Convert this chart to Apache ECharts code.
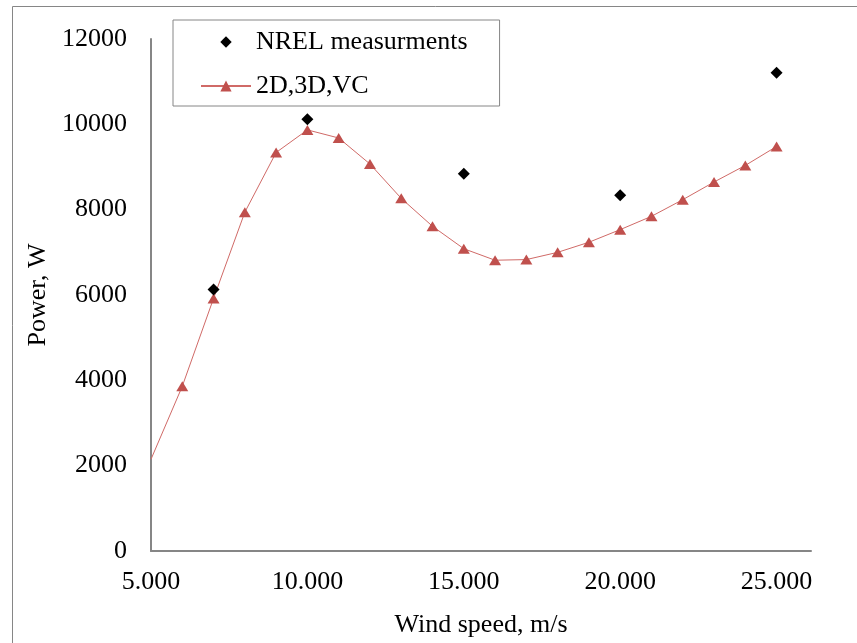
<!DOCTYPE html>
<html>
<head>
<meta charset="utf-8">
<script src="https://cdn.jsdelivr.net/npm/echarts@6/dist/echarts.min.js"></script>
<style>
  html, body { margin: 0; padding: 0; background: #fff; }
  #myChart { width: 857px; height: 643px; }
</style>
</head>
<body>
<div id="myChart"></div>
<script>
var myChart;
var FONT = '"Liberation Serif", "Times New Roman", serif';

// NREL measurements
var nrelSpeed = [7, 10, 15, 20, 25];
var nrelPower = [6130, 10120, 8840, 8340, 11210];

// 2D,3D,VC model
var modelSpeed = [5, 6, 7, 8, 9, 10, 11, 12, 13, 14, 15, 16, 17, 18, 19, 20, 21, 22, 23, 24, 25];
var modelPower = [2150, 3860, 5920, 7940, 9340, 9870, 9680, 9070, 8265, 7610, 7085,
    6815, 6830, 7000, 7236, 7532, 7844, 8234, 8648, 9037, 9481];

var xTicks = [5, 10, 15, 20, 25];

// small diamond inside a 14x14 box so the legend does not stretch it
var LEGEND_DIAMOND = 'path://M0,0 M14,14 M7,1.3 L12.7,7 L7,12.7 L1.3,7 Z';

function makeOption() {
    var modelData = modelSpeed.map(function (s, i) {
        // first point sits on the axis with no marker
        if (i === 0) {
            return { value: [s, modelPower[i]], symbol: 'none' };
        }
        return [s, modelPower[i]];
    });
    var nrelData = nrelSpeed.map(function (s, i) {
        return [s, nrelPower[i]];
    });
    return {
        animation: false,
        backgroundColor: '#fff',
        textStyle: { fontFamily: FONT },
        graphic: [{
            type: 'rect',
            shape: { x: 12.5, y: 6.5, width: 900, height: 700 },
            style: { fill: 'none', stroke: '#868686', lineWidth: 1 },
            silent: true
        }],
        legend: {
            orient: 'vertical',
            left: 173,
            top: 20,
            padding: [7, 32, 5, 27],
            itemGap: 14,
            itemWidth: 50,
            itemHeight: 14,
            borderColor: '#868686',
            borderWidth: 1,
            textStyle: { fontFamily: FONT, fontSize: 26, color: '#000', lineHeight: 30 },
            data: [
                { name: 'NREL measurments', icon: LEGEND_DIAMOND },
                { name: '2D,3D,VC' }
            ]
        },
        grid: {
            left: 151,
            right: 46,
            top: 39,
            bottom: 91
        },
        xAxis: {
            type: 'value',
            min: 5,
            max: 26.1,
            interval: 5,
            name: 'Wind speed, m/s',
            nameLocation: 'middle',
            nameGap: 61,
            nameTextStyle: { fontFamily: FONT, fontSize: 26, color: '#000' },
            axisLine: { lineStyle: { color: '#868686', width: 2 } },
            axisTick: { show: false },
            splitLine: { show: false },
            axisLabel: {
                fontFamily: FONT,
                fontSize: 26,
                color: '#000',
                margin: 18,
                showMaxLabel: false,
                formatter: function (v) {
                    return xTicks.indexOf(v) >= 0 ? v.toFixed(3) : '';
                }
            }
        },
        yAxis: {
            type: 'value',
            min: 0,
            max: 12000,
            interval: 2000,
            name: 'Power, W',
            nameLocation: 'middle',
            nameGap: 82,
            nameTextStyle: { fontFamily: FONT, fontSize: 26, color: '#000' },
            axisLine: { show: true, lineStyle: { color: '#868686', width: 2 } },
            axisTick: { show: false },
            splitLine: { show: false },
            axisLabel: {
                fontFamily: FONT,
                fontSize: 26,
                color: '#000',
                margin: 24,
                formatter: function (v) {
                    return String(v);
                }
            }
        },
        series: [{
                name: 'NREL measurments',
                type: 'scatter',
                symbol: 'diamond',
                symbolSize: 12,
                itemStyle: { color: '#000', opacity: 1 },
                data: nrelData,
                z: 3
            },
            {
                name: '2D,3D,VC',
                type: 'line',
                symbol: 'triangle',
                symbolSize: [12, 10],
                showAllSymbol: true,
                lineStyle: { color: '#D06A67', width: 1 },
                itemStyle: { color: '#C0504D' },
                data: modelData,
                z: 2
            }
        ]
    };
}

myChart = echarts.init(document.getElementById('myChart'), null, { renderer: 'canvas' });
myChart.setOption(makeOption());
</script>
</body>
</html>
